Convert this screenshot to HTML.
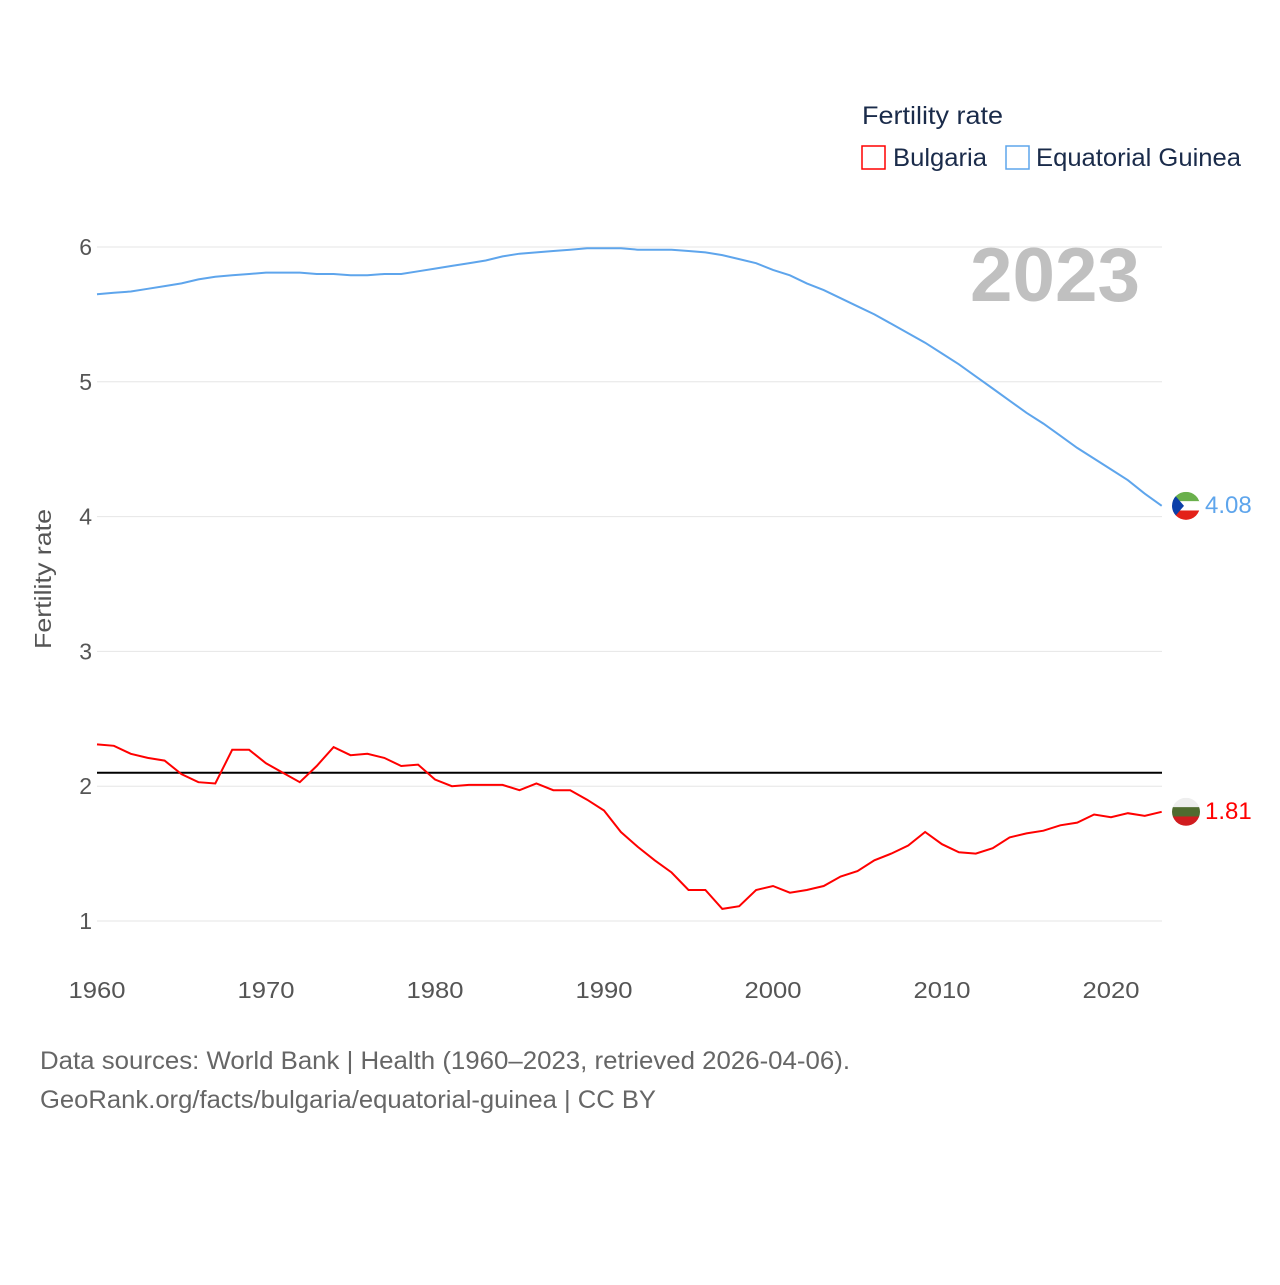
<!DOCTYPE html>
<html><head><meta charset="utf-8"><style>
body{margin:0;background:#fff;font-family:"Liberation Sans",sans-serif}
</style></head><body>
<svg id="chart" width="1280" height="1280" xmlns="http://www.w3.org/2000/svg" font-family="Liberation Sans, sans-serif">
<text x="862" y="124" font-size="25" fill="#1a2b4a" textLength="141" lengthAdjust="spacingAndGlyphs">Fertility rate</text>
<g><rect x="862" y="146" width="23" height="23" fill="none" stroke="#f00" stroke-width="1.5"/><text x="893" y="166" font-size="25" fill="#1a2b4a" textLength="94" lengthAdjust="spacingAndGlyphs">Bulgaria</text></g>
<g><rect x="1006" y="146" width="23" height="23" fill="none" stroke="#5ea5ec" stroke-width="1.5"/><text x="1036" y="166" font-size="25" fill="#1a2b4a" textLength="205" lengthAdjust="spacingAndGlyphs">Equatorial Guinea</text></g>
<text x="1140" y="301" font-size="76" font-weight="bold" fill="#c0c0c0" text-anchor="end" textLength="170" lengthAdjust="spacingAndGlyphs">2023</text>
<text transform="translate(51,579) rotate(-90)" font-size="23" fill="#555" text-anchor="middle" textLength="140" lengthAdjust="spacingAndGlyphs">Fertility rate</text>
<g id="grid"></g><g id="series"></g>
<text x="40" y="1069" font-size="25" fill="#666" textLength="810" lengthAdjust="spacingAndGlyphs">Data sources: World Bank | Health (1960–2023, retrieved 2026-04-06).</text>
<text x="40" y="1108" font-size="25" fill="#666" textLength="616" lengthAdjust="spacingAndGlyphs">GeoRank.org/facts/bulgaria/equatorial-guinea | CC BY</text>
</svg>
<script>
const yTicks=[1,2,3,4,5,6];
const xTicks=[1960,1970,1980,1990,2000,2010,2020];
const startYear=1960;
const bulgaria=[2.31,2.30,2.24,2.21,2.19,2.09,2.03,2.02,2.27,2.27,2.17,2.10,2.03,2.15,2.29,2.23,2.24,2.21,2.15,2.16,2.05,2.00,2.01,2.01,2.01,1.97,2.02,1.97,1.97,1.90,1.82,1.66,1.55,1.45,1.36,1.23,1.23,1.09,1.11,1.23,1.26,1.21,1.23,1.26,1.33,1.37,1.45,1.50,1.56,1.66,1.57,1.51,1.50,1.54,1.62,1.65,1.67,1.71,1.73,1.79,1.77,1.80,1.78,1.81];
const eqGuinea=[5.65,5.66,5.67,5.69,5.71,5.73,5.76,5.78,5.79,5.80,5.81,5.81,5.81,5.80,5.80,5.79,5.79,5.80,5.80,5.82,5.84,5.86,5.88,5.90,5.93,5.95,5.96,5.97,5.98,5.99,5.99,5.99,5.98,5.98,5.98,5.97,5.96,5.94,5.91,5.88,5.83,5.79,5.73,5.68,5.62,5.56,5.50,5.43,5.36,5.29,5.21,5.13,5.04,4.95,4.86,4.77,4.69,4.60,4.51,4.43,4.35,4.27,4.17,4.08];
const replacement=2.1;
const X=yr=>97+(yr-1960)*(1111-97)/60;
const Y=v=>921-(v-1)*(921-247)/5;
const NS="http://www.w3.org/2000/svg";
function mk(t,a,p){const e=document.createElementNS(NS,t);for(const k in a)e.setAttribute(k,a[k]);p.appendChild(e);return e;}
const grid=document.getElementById('grid'),ser=document.getElementById('series');
yTicks.forEach(v=>{
 const l=mk('line',{x1:97,x2:1162,y1:Y(v),y2:Y(v),stroke:'#e6e6e6','stroke-width':1},grid);
 
 
 const t=mk('text',{x:92,y:Y(v)+8,'font-size':23,fill:'#555','text-anchor':'end'},grid);t.textContent=v;
 
 
});
xTicks.forEach(yr=>{
 const t=mk('text',{x:X(yr),y:998,'font-size':23,fill:'#555','text-anchor':'middle',textLength:57,lengthAdjust:'spacingAndGlyphs'},grid);t.textContent=yr;
 
 
});
const rl=mk('line',{x1:97,x2:1162,y1:Y(replacement),y2:Y(replacement),stroke:'#000','stroke-width':2},ser);


function line(d,c,name){
 const p=mk('path',{d:d.map((v,i)=>(i?'L':'M')+X(startYear+i).toFixed(1)+','+Y(v).toFixed(1)).join(''),fill:'none',stroke:c,'stroke-width':2},ser);
 
 
}
line(eqGuinea,'#5ea5ec','equatorial-guinea-line');
line(bulgaria,'#f00','bulgaria-line');
function flag(v,stripes,tri,label,color,name){
 const cx=1186,cy=Y(v),r=14;
 const g=mk('g',{},ser);
 
 
 const id='c'+name;
 const cp=mk('clipPath',{id:id},g);mk('circle',{cx:cx,cy:cy,r:r},cp);
 const gg=mk('g',{'clip-path':'url(#'+id+')'},g);
 const h=2*r/stripes.length;
 stripes.forEach((c,i)=>mk('rect',{x:cx-r,y:cy-r+i*h,width:2*r,height:h+0.5,fill:c},gg));
 if(tri)mk('polygon',{points:`${cx-r},${cy-r} ${cx-2},${cy} ${cx-r},${cy+r}`,fill:tri},gg);
 const t=mk('text',{x:1205,y:cy+7,'font-size':24,fill:color},ser);t.textContent=label;
 
 
}
flag(eqGuinea[eqGuinea.length-1],['#6ab04c','#fff','#e32118'],'#0c3fa8',eqGuinea[eqGuinea.length-1].toFixed(2),'#5ea5ec','equatorial-guinea');
flag(bulgaria[bulgaria.length-1],['#eee','#4f6b2f','#d01c1f'],null,bulgaria[bulgaria.length-1].toFixed(2),'#f00','bulgaria');
</script>
</body></html>
